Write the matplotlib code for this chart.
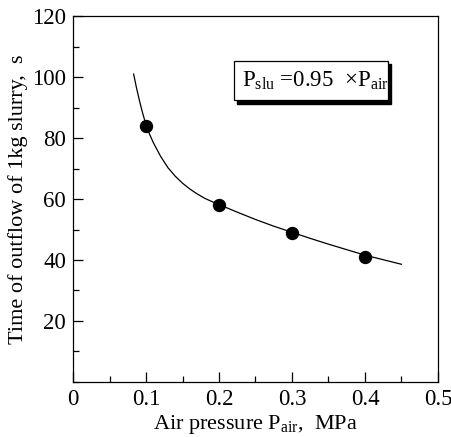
import matplotlib
matplotlib.use("Agg")
import matplotlib.pyplot as plt
from matplotlib.patches import Rectangle
from matplotlib.ticker import MultipleLocator

plt.rcParams['font.family'] = ['Liberation Serif', 'DejaVu Serif']
plt.rcParams['mathtext.fontset'] = 'custom'
plt.rcParams['mathtext.rm'] = 'Liberation Serif'
plt.rcParams['mathtext.it'] = 'Liberation Serif:italic'

# measured points
pressure = [0.1, 0.2, 0.3, 0.4]
outflow_time = [84, 58, 49, 41]

# fitted curve
curve_x = [0.083, 0.087, 0.091, 0.095, 0.1, 0.105, 0.11, 0.12, 0.13, 0.14,
           0.15, 0.16, 0.17, 0.18, 0.19, 0.2, 0.225, 0.25, 0.275, 0.3,
           0.325, 0.35, 0.375, 0.4, 0.425, 0.45]
curve_y = [101, 96.4, 92.3, 88.5, 84.3, 81.2, 78.5, 74, 70.3, 67.5,
           65.2, 63.3, 61.7, 60.3, 59.2, 58.2, 55.7, 53.3, 51.1, 49.1,
           47.1, 45.2, 43.4, 41.6, 40.1, 38.6]

xticks = [0, 0.1, 0.2, 0.3, 0.4, 0.5]
xtick_labels = ['0', '0.1', '0.2', '0.3', '0.4', '0.5']
yticks = [20, 40, 60, 80, 100, 120]

fig = plt.figure(figsize=(4.51, 4.37), dpi=100)
ax = fig.add_axes([0.162, 0.126, 0.809, 0.837])

ax.plot(curve_x, curve_y, color='black', lw=0.9)
ax.plot(pressure, outflow_time, 'o', color='black', ms=8.6)

ax.set_xlim(0, 0.5)
ax.set_ylim(0, 120)
ax.set_xticks(xticks)
ax.set_xticklabels(xtick_labels)
ax.set_yticks(yticks)
ax.xaxis.set_minor_locator(MultipleLocator(0.05))
ax.yaxis.set_minor_locator(MultipleLocator(10))
ax.tick_params(which='both', direction='in', top=False, right=False,
               labelsize=16.5, width=0.9)
ax.tick_params(which='major', length=7, pad=5)
ax.tick_params(which='minor', length=4)
for s in ax.spines.values():
    s.set_linewidth(0.9)

ax.set_xlabel(r'Air pressure P$_{\mathrm{air}}$,  MPa', fontsize=16, labelpad=2)
ax.set_ylabel('Time of outflow of 1kg slurry,  s', fontsize=16, labelpad=3)

# boxed relation with drop shadow
bx0, by0, bw, bh = 0.441, 0.770, 0.421, 0.107
ax.add_patch(Rectangle((bx0 + 0.009, by0 - 0.009), bw, bh, transform=ax.transAxes,
                       facecolor='black', edgecolor='black', zorder=4))
ax.add_patch(Rectangle((bx0, by0), bw, bh, transform=ax.transAxes,
                       facecolor='white', edgecolor='black', lw=0.9, zorder=5))
ax.text(bx0 + 0.022, by0 + bh / 2, r'P$_{\mathrm{slu}}$ =0.95  $\times$P$_{\mathrm{air}}$',
        transform=ax.transAxes, fontsize=16.5, ha='left', va='center', zorder=6)

fig.savefig('out.png', dpi=100)
